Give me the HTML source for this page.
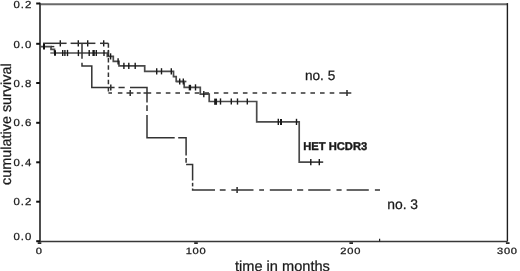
<!DOCTYPE html>
<html><head><meta charset="utf-8"><style>
html,body{margin:0;padding:0;background:#fff;}
svg{display:block;}

text{text-rendering:geometricPrecision;font-family:"Liberation Sans",Arial,sans-serif;fill:#1a1a1a;stroke:#1a1a1a;stroke-width:0.25px;}
.tl{font-size:10.2px;letter-spacing:0.9px;}
.xl{font-size:9.1px;letter-spacing:0.6px;}
</style></head><body><div class="wrap">
<svg width="520" height="271" viewBox="0 0 520 271">
<rect width="520" height="271" fill="#fff"/>
<line x1="40" y1="4.3" x2="507.4" y2="4.3" stroke="#6a6a6a" stroke-width="2.1" />
<line x1="507.4" y1="3.1" x2="507.4" y2="241.5" stroke="#1e1e1e" stroke-width="1.4" />
<line x1="40" y1="2.7" x2="40" y2="241.5" stroke="#3a3a3a" stroke-width="1.8" />
<line x1="39.5" y1="241.5" x2="507.4" y2="241.5" stroke="#383838" stroke-width="1.6" />
<line x1="36.2" y1="3.5" x2="40" y2="3.5" stroke="#111" stroke-width="2.0" />
<line x1="36.2" y1="43.8" x2="40" y2="43.8" stroke="#111" stroke-width="2.0" />
<line x1="36.2" y1="83" x2="40" y2="83" stroke="#111" stroke-width="2.0" />
<line x1="36.2" y1="122.8" x2="40" y2="122.8" stroke="#111" stroke-width="2.0" />
<line x1="36.2" y1="162.3" x2="40" y2="162.3" stroke="#111" stroke-width="2.0" />
<line x1="36.2" y1="201.7" x2="40" y2="201.7" stroke="#111" stroke-width="2.0" />
<line x1="36.2" y1="241.2" x2="40" y2="241.2" stroke="#111" stroke-width="2.0" />
<line x1="37.7" y1="243.1" x2="41.3" y2="243.1" stroke="#111" stroke-width="1.6" />
<line x1="194.2" y1="243.1" x2="197.8" y2="243.1" stroke="#111" stroke-width="1.6" />
<line x1="349.4" y1="243.1" x2="353" y2="243.1" stroke="#111" stroke-width="1.6" />
<line x1="505.9" y1="243.1" x2="509.5" y2="243.1" stroke="#111" stroke-width="1.6" />
<line x1="379.6" y1="238.8" x2="379.6" y2="241.4" stroke="#222" stroke-width="1.2" />
<path d="M40 46.6 L51 46.6 L51 49.3 L54.5 49.3 L54.5 53 L107.3 53 L107.3 56.4 L113.3 56.4 L113.3 61.3 L119 61.3 L119 65.8 L144.7 65.8 L144.7 71.3 L173.5 71.3 L173.5 76.6 L176.2 76.6 L176.2 81.5 L184.2 81.5 L184.2 87.4 L200.3 87.4 L200.3 94.2 L209.2 94.2 L209.2 101.5 L256.7 101.5 L256.7 121.9 L299.2 121.9 L299.2 162.1 L323.2 162.1" fill="none" stroke="#4a4a4a" stroke-width="1.7" stroke-linejoin="miter" stroke-linecap="butt" />
<line x1="176.2" y1="81.5" x2="186.4" y2="81.5" stroke="#4a4a4a" stroke-width="1.7" />
<line x1="51" y1="46.6" x2="54.3" y2="46.6" stroke="#333" stroke-width="1.4" />
<line x1="50.3" y1="53" x2="54.5" y2="53" stroke="#777" stroke-width="1.7" />
<line x1="44" y1="43.6" x2="44" y2="49.4" stroke="#111" stroke-width="2.0" />
<line x1="55" y1="50.3" x2="55" y2="55.7" stroke="#111" stroke-width="2.0" />
<line x1="62.7" y1="49.9" x2="62.7" y2="56.1" stroke="#1a1a1a" stroke-width="1.4" />
<line x1="64.9" y1="49.9" x2="64.9" y2="56.1" stroke="#1a1a1a" stroke-width="1.4" />
<line x1="67.5" y1="49.9" x2="67.5" y2="56.1" stroke="#1a1a1a" stroke-width="1.4" />
<line x1="78.4" y1="49.9" x2="78.4" y2="56.1" stroke="#1a1a1a" stroke-width="1.4" />
<line x1="89.2" y1="49.9" x2="89.2" y2="56.1" stroke="#1a1a1a" stroke-width="1.4" />
<line x1="96.3" y1="49.9" x2="96.3" y2="56.1" stroke="#1a1a1a" stroke-width="1.4" />
<line x1="104" y1="49.9" x2="104" y2="56.1" stroke="#1a1a1a" stroke-width="1.4" />
<line x1="108.4" y1="49.9" x2="108.4" y2="56.1" stroke="#1a1a1a" stroke-width="1.4" />
<line x1="93.6" y1="50" x2="93.6" y2="56" stroke="#1a1a1a" stroke-width="2.4" />
<line x1="110.6" y1="53.3" x2="110.6" y2="59.5" stroke="#1a1a1a" stroke-width="1.4" />
<line x1="118.1" y1="58.2" x2="118.1" y2="64.4" stroke="#1a1a1a" stroke-width="1.4" />
<line x1="123.9" y1="62.7" x2="123.9" y2="68.9" stroke="#1a1a1a" stroke-width="1.4" />
<line x1="128.8" y1="62.7" x2="128.8" y2="68.9" stroke="#1a1a1a" stroke-width="1.4" />
<line x1="135.2" y1="62.7" x2="135.2" y2="68.9" stroke="#1a1a1a" stroke-width="1.4" />
<line x1="156.7" y1="68.2" x2="156.7" y2="74.4" stroke="#1a1a1a" stroke-width="1.4" />
<line x1="161.5" y1="68.2" x2="161.5" y2="74.4" stroke="#1a1a1a" stroke-width="1.4" />
<line x1="171.3" y1="68.2" x2="171.3" y2="74.4" stroke="#1a1a1a" stroke-width="1.4" />
<line x1="179.7" y1="78.4" x2="179.7" y2="84.6" stroke="#1a1a1a" stroke-width="1.4" />
<line x1="183.3" y1="78.4" x2="183.3" y2="84.6" stroke="#1a1a1a" stroke-width="1.4" />
<line x1="195.5" y1="84.3" x2="195.5" y2="90.5" stroke="#1a1a1a" stroke-width="1.4" />
<line x1="189.9" y1="84.8" x2="189.9" y2="90.4" stroke="#1a1a1a" stroke-width="2.4" />
<line x1="203.8" y1="91.1" x2="203.8" y2="97.3" stroke="#1a1a1a" stroke-width="1.4" />
<line x1="220.5" y1="98.4" x2="220.5" y2="104.6" stroke="#1a1a1a" stroke-width="1.4" />
<line x1="231.3" y1="98.4" x2="231.3" y2="104.6" stroke="#1a1a1a" stroke-width="1.4" />
<line x1="237.5" y1="98.4" x2="237.5" y2="104.6" stroke="#1a1a1a" stroke-width="1.4" />
<line x1="247.3" y1="98.4" x2="247.3" y2="104.6" stroke="#1a1a1a" stroke-width="1.4" />
<line x1="215.6" y1="98.6" x2="215.6" y2="104.8" stroke="#1a1a1a" stroke-width="2.9" />
<line x1="278.3" y1="118.8" x2="278.3" y2="125" stroke="#1a1a1a" stroke-width="1.4" />
<line x1="296.5" y1="118.8" x2="296.5" y2="125" stroke="#1a1a1a" stroke-width="1.4" />
<line x1="281" y1="118.9" x2="281" y2="125.1" stroke="#1a1a1a" stroke-width="2" />
<line x1="310.8" y1="159" x2="310.8" y2="165.2" stroke="#1a1a1a" stroke-width="1.4" />
<line x1="319.3" y1="159" x2="319.3" y2="165.2" stroke="#1a1a1a" stroke-width="1.4" />
<line x1="60.3" y1="40.2" x2="60.3" y2="46.4" stroke="#1a1a1a" stroke-width="1.4" />
<line x1="78.3" y1="40.2" x2="78.3" y2="46.4" stroke="#1a1a1a" stroke-width="1.4" />
<line x1="87.7" y1="40.2" x2="87.7" y2="46.4" stroke="#1a1a1a" stroke-width="1.4" />
<line x1="103.7" y1="40.2" x2="103.7" y2="46.4" stroke="#1a1a1a" stroke-width="1.4" />
<line x1="130.2" y1="89.9" x2="130.2" y2="96.1" stroke="#1a1a1a" stroke-width="1.4" />
<line x1="347" y1="89.9" x2="347" y2="96.1" stroke="#1a1a1a" stroke-width="1.4" />
<line x1="110.8" y1="84.4" x2="110.8" y2="90.6" stroke="#1a1a1a" stroke-width="1.4" />
<line x1="237.1" y1="186.9" x2="237.1" y2="193.1" stroke="#1a1a1a" stroke-width="1.4" />
<line x1="43" y1="43.3" x2="66.6" y2="43.3" stroke="#333" stroke-width="1.5" />
<line x1="70.6" y1="43.3" x2="95.4" y2="43.3" stroke="#333" stroke-width="1.5" />
<line x1="100" y1="43.3" x2="108.4" y2="43.3" stroke="#333" stroke-width="1.5" />
<line x1="108.4" y1="43.3" x2="108.4" y2="93" stroke="#333" stroke-width="1.5" stroke-dasharray="4.5 2.8"/>
<line x1="108.4" y1="93" x2="112" y2="93" stroke="#333" stroke-width="1.5" />
<line x1="117.9" y1="93" x2="122.4" y2="93" stroke="#333" stroke-width="1.5" />
<line x1="126.5" y1="93" x2="133.4" y2="93" stroke="#333" stroke-width="1.5" />
<line x1="136.8" y1="93" x2="140.7" y2="93" stroke="#333" stroke-width="1.5" />
<line x1="143.5" y1="93" x2="151.2" y2="93" stroke="#333" stroke-width="1.5" />
<line x1="156.2" y1="93" x2="160.8" y2="93" stroke="#333" stroke-width="1.5" />
<line x1="165.8" y1="93" x2="170.4" y2="93" stroke="#333" stroke-width="1.5" />
<line x1="175.4" y1="93" x2="180" y2="93" stroke="#333" stroke-width="1.5" />
<line x1="185.1" y1="93" x2="189.7" y2="93" stroke="#333" stroke-width="1.5" />
<line x1="194.7" y1="93" x2="199.3" y2="93" stroke="#333" stroke-width="1.5" />
<line x1="204.4" y1="93" x2="209" y2="93" stroke="#333" stroke-width="1.5" />
<line x1="214" y1="93" x2="218.6" y2="93" stroke="#333" stroke-width="1.5" />
<line x1="223.6" y1="93" x2="228.2" y2="93" stroke="#333" stroke-width="1.5" />
<line x1="233.3" y1="93" x2="237.9" y2="93" stroke="#333" stroke-width="1.5" />
<line x1="242.9" y1="93" x2="247.5" y2="93" stroke="#333" stroke-width="1.5" />
<line x1="252.6" y1="93" x2="257.2" y2="93" stroke="#333" stroke-width="1.5" />
<line x1="262.2" y1="93" x2="266.8" y2="93" stroke="#333" stroke-width="1.5" />
<line x1="271.8" y1="93" x2="276.4" y2="93" stroke="#333" stroke-width="1.5" />
<line x1="281.5" y1="93" x2="286.1" y2="93" stroke="#333" stroke-width="1.5" />
<line x1="291.1" y1="93" x2="295.7" y2="93" stroke="#333" stroke-width="1.5" />
<line x1="300.8" y1="93" x2="305.4" y2="93" stroke="#333" stroke-width="1.5" />
<line x1="310.4" y1="93" x2="315" y2="93" stroke="#333" stroke-width="1.5" />
<line x1="320" y1="93" x2="324.6" y2="93" stroke="#333" stroke-width="1.5" />
<line x1="329.7" y1="93" x2="334.3" y2="93" stroke="#333" stroke-width="1.5" />
<line x1="339.3" y1="93" x2="351.3" y2="93" stroke="#333" stroke-width="1.5" />
<line x1="82" y1="43.3" x2="82" y2="58.8" stroke="#333" stroke-width="1.5" />
<path d="M82 62.7 L82 66 L91.8 66 L91.8 87.5 L114.6 87.5" fill="none" stroke="#333" stroke-width="1.5" stroke-linejoin="miter" stroke-linecap="butt" />
<line x1="118.5" y1="87.5" x2="124.7" y2="87.5" stroke="#333" stroke-width="1.5" />
<path d="M130 87.5 L147 87.5 L147 102.4" fill="none" stroke="#333" stroke-width="1.5" stroke-linejoin="miter" stroke-linecap="butt" />
<line x1="147" y1="105.3" x2="147" y2="111" stroke="#333" stroke-width="1.5" />
<path d="M147 114.9 L147 137.8 L174.7 137.8" fill="none" stroke="#333" stroke-width="1.5" stroke-linejoin="miter" stroke-linecap="butt" />
<path d="M178.2 137.8 L186.1 137.8 L186.1 155.6" fill="none" stroke="#333" stroke-width="1.5" stroke-linejoin="miter" stroke-linecap="butt" />
<line x1="186.1" y1="158" x2="186.1" y2="162.7" stroke="#333" stroke-width="1.5" />
<path d="M186.1 164.6 L192.6 164.6 L192.6 180.5" fill="none" stroke="#333" stroke-width="1.5" stroke-linejoin="miter" stroke-linecap="butt" />
<line x1="192.6" y1="182.8" x2="192.6" y2="186.4" stroke="#333" stroke-width="1.5" />
<path d="M192.6 188.5 L192.6 190 L215 190" fill="none" stroke="#333" stroke-width="1.5" stroke-linejoin="miter" stroke-linecap="butt" />
<line x1="219.8" y1="190" x2="225.6" y2="190" stroke="#333" stroke-width="1.5" />
<line x1="231.3" y1="190" x2="253.5" y2="190" stroke="#333" stroke-width="1.5" />
<line x1="259.2" y1="190" x2="264" y2="190" stroke="#333" stroke-width="1.5" />
<line x1="269.8" y1="190" x2="292" y2="190" stroke="#333" stroke-width="1.5" />
<line x1="297.1" y1="190" x2="303.2" y2="190" stroke="#333" stroke-width="1.5" />
<line x1="308.2" y1="190" x2="330.5" y2="190" stroke="#333" stroke-width="1.5" />
<line x1="336.5" y1="190" x2="341.6" y2="190" stroke="#333" stroke-width="1.5" />
<line x1="346.6" y1="190" x2="368.8" y2="190" stroke="#333" stroke-width="1.5" />
<line x1="374.9" y1="190" x2="380" y2="190" stroke="#333" stroke-width="1.5" />
<g class="tl">
<text transform="translate(13.4,8.2) scale(1.12,1)">0.2</text>
<text transform="translate(13.4,47.5) scale(1.12,1)">0.0</text>
<text transform="translate(13.4,86.6) scale(1.12,1)">0.8</text>
<text transform="translate(13.4,125.9) scale(1.12,1)">0.6</text>
<text transform="translate(13.4,165.6) scale(1.12,1)">0.4</text>
<text transform="translate(13.4,204.5) scale(1.12,1)">0.2</text>
<text transform="translate(13.4,239.6) scale(1.12,1)">0.0</text>
</g>
<g class="xl" text-anchor="middle">
<text transform="translate(39.3,253.8) scale(1.22,1)">0</text>
<text transform="translate(196,254.2) scale(1.22,1)">100</text>
<text transform="translate(350.7,254.1) scale(1.22,1)">200</text>
<text transform="translate(507.4,253.9) scale(1.22,1)">300</text>
</g>
<text x="235" y="270.8" style="font-size:14.6px">time in months</text>
<text transform="translate(10.7,184.9) rotate(-90)" style="font-size:14.4px">cumulative survival</text>
<text x="303.2" y="150.3" style="font-size:11.2px;font-weight:bold;stroke-width:0.4px">HET HCDR3</text>
<text x="305" y="79.9" style="font-size:13.6px">no. 5</text>
<text x="387.2" y="208.6" style="font-size:13.9px">no. 3</text>
</svg></div>
</body></html>
